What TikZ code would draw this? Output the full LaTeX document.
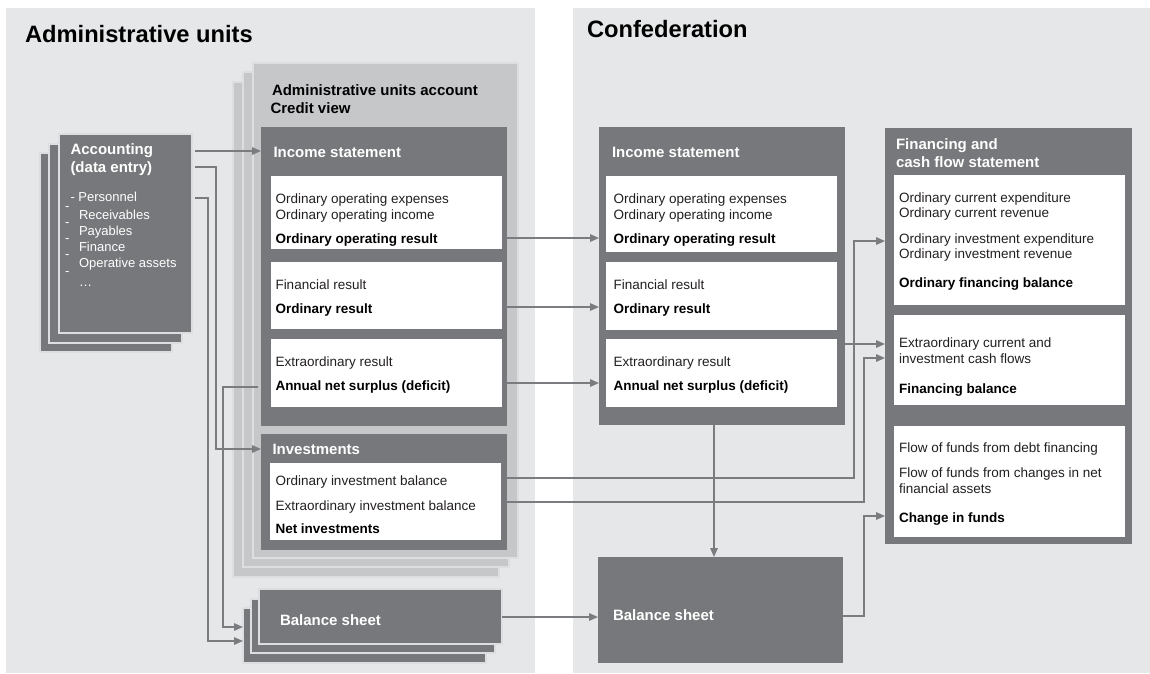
\documentclass[tikz,border=0pt]{standalone}
\usepackage{fontspec}
\setmainfont{Liberation Sans}
\usetikzlibrary{arrows.meta}
\definecolor{panelc}{HTML}{E6E7E8}
\definecolor{darkc}{HTML}{77787B}
\definecolor{lightc}{HTML}{C6C7C9}
\definecolor{gapc}{HTML}{DDDEE0}
\definecolor{txtc}{HTML}{231F20}
\definecolor{arrc}{HTML}{7B7C7F}
\begin{document}
\begin{tikzpicture}[x=1pt,y=-1pt,
  rect/.style 2 args={anchor=north west, inner sep=0pt, outer sep=0pt, minimum width=#1, minimum height=#2},
  panel/.style={fill=panelc, draw=none},
  darkbox/.style={fill=darkc, draw=none},
  darklayer/.style={fill=darkc, draw=gapc, line width=1.8pt},
  lightlayer/.style={fill=lightc, draw=gapc, line width=1.6pt},
  wbox/.style={fill=white, draw=none},
  tx/.style={anchor=base west, inner sep=0pt, outer sep=0pt, font=\fontsize{13.5}{16}\selectfont, text=txtc},
  bx/.style={anchor=base west, inner sep=0pt, outer sep=0pt, font=\fontsize{13.5}{16}\selectfont\bfseries, text=black},
  lst/.style={anchor=base west, inner sep=0pt, outer sep=0pt, font=\fontsize{13}{16}\selectfont, text=white},
  hd/.style={anchor=base west, inner sep=0pt, outer sep=0pt, font=\fontsize{15}{18}\selectfont\bfseries, text=white},
  hdk/.style={hd, text=black},
  ttl/.style={anchor=base west, inner sep=0pt, outer sep=0pt, font=\fontsize{23.7}{28}\selectfont\bfseries, text=black},
  conn/.style={draw=arrc, line width=1.5pt, -{Triangle[length=9pt,width=7.5pt]}},
  gapstart/.style={shorten <=3pt}
]
\useasboundingbox (0,0) rectangle (1150,673);

% panels
\node[rect={529pt}{665pt}, panel] (lpanel) at (6,8) {};
\node[rect={577pt}{665pt}, panel] (rpanel) at (573,8) {};
\node[ttl] (t1) at (25,42) {Administrative units};
\node[ttl] (t2) at (587,37) {Confederation};

% accounting stack
\node[rect={132pt}{199pt}, darklayer] (acc3) at (40,153) {};
\node[rect={133pt}{199pt}, darklayer] (acc2) at (49,144) {};
\node[rect={133pt}{199pt}, darklayer] (acc) at (59,134) {};

% administrative units account stack
\node[rect={266pt}{495pt}, lightlayer] (aua3) at (233,82) {};
\node[rect={266pt}{495pt}, lightlayer] (aua2) at (243,72) {};
\node[rect={265pt}{495pt}, lightlayer] (aua) at (253,63) {};

% left income statement
\node[rect={246pt}{299pt}, darkbox] (lis) at (261,127) {};
\node[rect={231pt}{73pt}, wbox] (lw1) at (271,176) {};
\node[rect={231pt}{67pt}, wbox] (lw2) at (271,262) {};
\node[rect={231pt}{68pt}, wbox] (lw3) at (271,339) {};

% investments
\node[rect={246pt}{116pt}, darkbox] (lin) at (261,434) {};
\node[rect={231pt}{77pt}, wbox] (lw4) at (270,463) {};

% left balance sheet stack
\node[rect={243pt}{55pt}, darklayer] (lbs3) at (243,608) {};
\node[rect={244pt}{54pt}, darklayer] (lbs2) at (251,599) {};
\node[rect={243pt}{55pt}, darklayer] (lbs) at (259,589) {};

% confederation income statement
\node[rect={246pt}{298pt}, darkbox] (cis) at (599,127) {};
\node[rect={231pt}{76pt}, wbox] (cw1) at (606,176) {};
\node[rect={231pt}{68pt}, wbox] (cw2) at (606,262) {};
\node[rect={231pt}{68pt}, wbox] (cw3) at (606,339) {};

% confederation balance sheet
\node[rect={245pt}{106pt}, darkbox] (cbs) at (598,557) {};

% financing and cash flow statement
\node[rect={247pt}{416pt}, darkbox] (fin) at (885,128) {};
\node[rect={231pt}{130pt}, wbox] (fw1) at (894,175) {};
\node[rect={231pt}{90pt}, wbox] (fw2) at (894,315) {};
\node[rect={231pt}{111pt}, wbox] (fw3) at (894,426) {};

% connector helper coordinates
\coordinate (yA) at (0,151);
\coordinate (b1) at (216,167);
\coordinate (b2) at (216,449);
\coordinate (c1) at (208,198);
\coordinate (c2) at (208,641);
\coordinate (d1) at (223,387);
\coordinate (d2) at (223,627);
\coordinate (ye) at (0,238);
\coordinate (yf) at (0,307);
\coordinate (yg) at (0,383);
\coordinate (h1) at (854,478);
\coordinate (h2) at (854,241);
\coordinate (i1) at (864,502);
\coordinate (i2) at (864,358);
\coordinate (yj) at (0,344);
\coordinate (xk) at (714,0);
\coordinate (yl) at (0,617);
\coordinate (m1) at (864,616);
\coordinate (m2) at (864,516);

% connectors
\draw[conn, gapstart] (acc.east |- yA) -- (lis.west |- yA);
\draw[conn, gapstart] (acc.east |- b1) -- (b1) -- (b2) -- (lin.west |- b2);
\draw[conn, gapstart] (acc.east |- c1) -- (c1) -- (c2) -- (lbs3.west |- c2);
\draw[conn, gapstart] (lis.west |- d1) -- (d1) -- (d2) -- (lbs3.west |- d2);
\draw[conn] (lis.east |- ye) -- (cis.west |- ye);
\draw[conn] (lis.east |- yf) -- (cis.west |- yf);
\draw[conn] (lis.east |- yg) -- (cis.west |- yg);
\draw[conn] (lin.east |- h1) -- (h1) -- (h2) -- (fin.west |- h2);
\draw[conn] (lin.east |- i1) -- (i1) -- (i2) -- (fin.west |- i2);
\draw[conn] (cis.east |- yj) -- (fin.west |- yj);
\draw[conn] (cis.south -| xk) -- (cbs.north -| xk);
\draw[conn] (lbs.east |- yl) -- (cbs.west |- yl);
\draw[conn] (cbs.east |- m1) -- (m1) -- (m2) -- (fin.west |- m2);

% accounting texts
\node[hd] (acch1) at (70.5,154) {Accounting};
\node[hd] (acch2) at (70.5,172.5) {(data entry)};
\node[lst] (al1) at (70.5,201.7) {- Personnel};
\node[lst] (al2) at (79,219) {Receivables};
\node[lst] (al3) at (79,235) {Payables};
\node[lst] (al4) at (79,251) {Finance};
\node[lst] (al5) at (79,267) {Operative assets};
\node[lst] (al6) at (79,286) {…};
\node[lst] (ds1) at (65,210.6) {-};
\node[lst] (ds2) at (65,226.6) {-};
\node[lst] (ds3) at (65,242.6) {-};
\node[lst] (ds4) at (65,258.6) {-};
\node[lst] (ds5) at (65,275.3) {-};

% admin units account texts
\node[hdk] (auah1) at (272,95.7) {Administrative units account};
\node[hdk] (auah2) at (270.5,113) {Credit view};
\node[hd] (lish) at (273.5,157) {Income statement};
\node[tx] (lt1) at (275.5,203) {Ordinary operating expenses};
\node[tx] (lt2) at (275.5,219) {Ordinary operating income};
\node[bx] (lt3) at (275.5,243) {Ordinary operating result};
\node[tx] (lt4) at (275.5,289) {Financial result};
\node[bx] (lt5) at (275.5,313) {Ordinary result};
\node[tx] (lt6) at (275.5,366) {Extraordinary result};
\node[bx] (lt7) at (275.5,390) {Annual net surplus (deficit)};
\node[hd] (linh) at (272.5,454) {Investments};
\node[tx] (it1) at (275.5,485) {Ordinary investment balance};
\node[tx] (it2) at (275.5,510) {Extraordinary investment balance};
\node[bx] (it3) at (275.5,533) {Net investments};
\node[hd] (lbsh) at (280,625) {Balance sheet};

% confederation texts
\node[hd] (cish) at (612,157) {Income statement};
\node[tx] (ct1) at (613.5,203) {Ordinary operating expenses};
\node[tx] (ct2) at (613.5,219) {Ordinary operating income};
\node[bx] (ct3) at (613.5,243) {Ordinary operating result};
\node[tx] (ct4) at (613.5,289) {Financial result};
\node[bx] (ct5) at (613.5,313) {Ordinary result};
\node[tx] (ct6) at (613.5,366) {Extraordinary result};
\node[bx] (ct7) at (613.5,390) {Annual net surplus (deficit)};
\node[hd] (cbsh) at (613,620) {Balance sheet};

\node[hd] (finh1) at (896,149.5) {Financing and};
\node[hd] (finh2) at (896,167.5) {cash flow statement};
\node[tx] (ft1) at (899,202) {Ordinary current expenditure};
\node[tx] (ft2) at (899,217.5) {Ordinary current revenue};
\node[tx] (ft3) at (899,243) {Ordinary investment expenditure};
\node[tx] (ft4) at (899,258.5) {Ordinary investment revenue};
\node[bx] (ft5) at (899,287.5) {Ordinary financing balance};
\node[tx] (ft6) at (899,347) {Extraordinary current and};
\node[tx] (ft7) at (899,363) {investment cash flows};
\node[bx] (ft8) at (899,393) {Financing balance};
\node[tx] (ft9) at (899,452.5) {Flow of funds from debt financing};
\node[tx] (ft10) at (899,477) {Flow of funds from changes in net};
\node[tx] (ft11) at (899,493) {financial assets};
\node[bx] (ft12) at (899,522.7) {Change in funds};
\end{tikzpicture}
\end{document}
